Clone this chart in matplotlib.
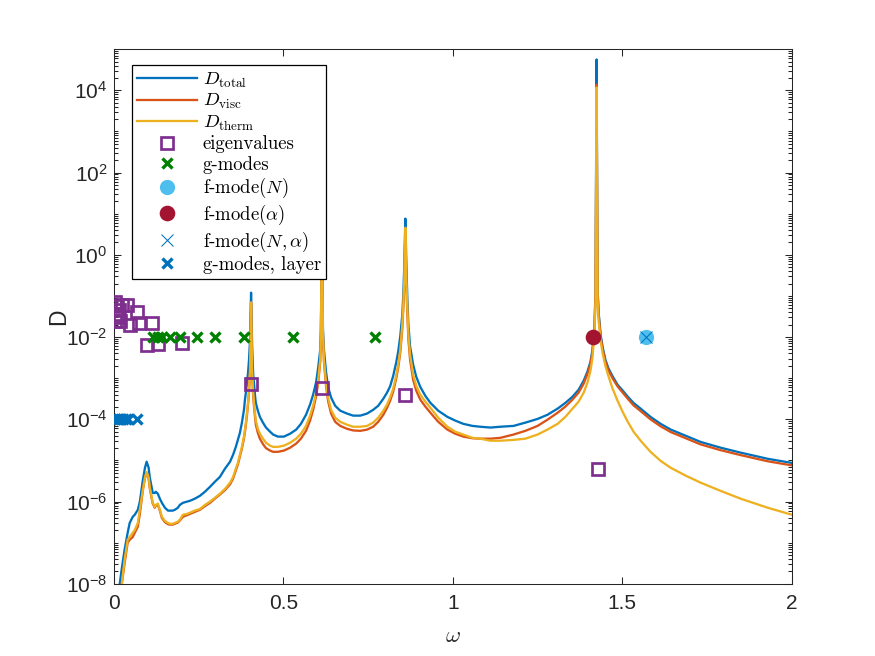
import numpy as np
import matplotlib
matplotlib.use('Agg')
import matplotlib.pyplot as plt
from matplotlib.ticker import FixedLocator, LogFormatterSciNotation, NullFormatter, FixedFormatter
from matplotlib.font_manager import FontProperties

# ---------------- data ----------------
# D_total  (omega, log10 D)
w_total = [0.012, 0.018, 0.024, 0.032, 0.041, 0.047, 0.056, 0.062, 0.071, 0.077, 0.086,
           0.092, 0.097, 0.103, 0.106, 0.112, 0.115, 0.121, 0.124, 0.130, 0.136,
           0.142, 0.151, 0.160, 0.165, 0.174, 0.180, 0.189, 0.195, 0.204, 0.216,
           0.225, 0.239, 0.254, 0.269, 0.284, 0.298, 0.313, 0.328, 0.343, 0.352,
           0.360, 0.366, 0.372, 0.378, 0.384, 0.387, 0.390, 0.393, 0.396, 0.399,
           0.402, 0.405, 0.408, 0.411, 0.414, 0.417, 0.419, 0.425, 0.431, 0.440,
           0.449, 0.461, 0.470, 0.484, 0.502, 0.520, 0.538, 0.552, 0.567, 0.579,
           0.588, 0.597, 0.603, 0.609, 0.611, 0.614, 0.617, 0.620, 0.626, 0.632,
           0.641, 0.653, 0.668, 0.688, 0.706, 0.727, 0.747, 0.765, 0.780, 0.795,
           0.806, 0.815, 0.824, 0.833, 0.839, 0.845, 0.851, 0.854, 0.857, 0.860,
           0.863, 0.866, 0.869, 0.874, 0.883, 0.892, 0.904, 0.919, 0.934, 0.957,
           0.984, 1.007, 1.031, 1.058, 1.081, 1.111, 1.140, 1.179, 1.214, 1.250,
           1.279, 1.309, 1.332, 1.353, 1.371, 1.386, 1.397, 1.406, 1.412, 1.418,
           1.421, 1.424, 1.427, 1.430, 1.436, 1.442, 1.450, 1.459, 1.471, 1.486,
           1.501, 1.516, 1.533, 1.554, 1.583, 1.613, 1.643, 1.687, 1.731, 1.790,
           1.849, 1.929, 2.000]
logD_total = [-8.27, -7.98, -7.61, -7.17, -6.76, -6.52, -6.37, -6.32, -6.20, -6.00, -5.47,
              -5.18, -5.03, -5.18, -5.40, -5.66, -5.79, -5.79, -5.76, -5.81, -5.93,
              -6.03, -6.15, -6.22, -6.22, -6.22, -6.20, -6.15, -6.08, -6.03, -6.00,
              -5.98, -5.93, -5.86, -5.76, -5.64, -5.52, -5.40, -5.20, -5.03, -4.86,
              -4.67, -4.50, -4.33, -4.08, -3.77, -3.52, -3.33, -3.11, -2.87, -2.55,
              -2.06, -0.92, -2.18, -2.87, -3.16, -3.45, -3.60, -3.79, -3.94, -4.08,
              -4.20, -4.30, -4.37, -4.42, -4.42, -4.35, -4.25, -4.11, -3.89, -3.64,
              -3.40, -3.09, -2.74, -2.31, -1.82, 1.00, -1.82, -2.31, -2.84, -3.21,
              -3.47, -3.67, -3.79, -3.86, -3.91, -3.91, -3.86, -3.77, -3.67, -3.50,
              -3.35, -3.20, -2.95, -2.62, -2.35, -1.98, -1.46, -0.97, -0.24, 0.88,
              -0.24, -1.09, -1.70, -2.23, -2.67, -2.96, -3.21, -3.43, -3.60, -3.79,
              -3.94, -4.03, -4.11, -4.16, -4.18, -4.20, -4.18, -4.16, -4.08, -3.99,
              -3.89, -3.74, -3.60, -3.45, -3.28, -3.06, -2.84, -2.60, -2.31, -1.70,
              -0.85, 4.75, -0.85, -1.40, -1.95, -2.25, -2.55, -2.76, -2.95, -3.16,
              -3.30, -3.45, -3.60, -3.74, -3.94, -4.11, -4.25, -4.40, -4.55, -4.69,
              -4.81, -4.96, -5.06]

# omega grid shared by D_visc and D_therm
w_vt = [0.021, 0.024, 0.032, 0.041, 0.047, 0.056, 0.062, 0.071, 0.077, 0.086,
        0.092, 0.097, 0.103, 0.106, 0.112, 0.115, 0.121, 0.124, 0.130, 0.136,
        0.142, 0.151, 0.160, 0.165, 0.174, 0.180, 0.189, 0.195, 0.204, 0.216,
        0.225, 0.239, 0.254, 0.269, 0.284, 0.298, 0.313, 0.328, 0.343, 0.352,
        0.360, 0.366, 0.372, 0.378, 0.384, 0.387, 0.390, 0.393, 0.396, 0.399,
        0.402, 0.405, 0.408, 0.411, 0.414, 0.417, 0.419, 0.425, 0.431, 0.440,
        0.449, 0.461, 0.470, 0.484, 0.502, 0.520, 0.538, 0.552, 0.567, 0.579,
        0.588, 0.597, 0.603, 0.609, 0.611, 0.614, 0.617, 0.620, 0.626, 0.632,
        0.641, 0.653, 0.668, 0.688, 0.706, 0.727, 0.747, 0.765, 0.780, 0.795,
        0.806, 0.815, 0.824, 0.833, 0.839, 0.845, 0.851, 0.854, 0.857, 0.860,
        0.863, 0.866, 0.869, 0.874, 0.883, 0.892, 0.904, 0.919, 0.934, 0.957,
        0.984, 1.007, 1.031, 1.058, 1.081, 1.111, 1.140, 1.179, 1.214, 1.250,
        1.279, 1.309, 1.332, 1.353, 1.371, 1.386, 1.397, 1.406, 1.412, 1.418,
        1.421, 1.424, 1.427, 1.430, 1.436, 1.442, 1.450, 1.459, 1.471, 1.486,
        1.501, 1.516, 1.533, 1.554, 1.583, 1.613, 1.643, 1.687, 1.731, 1.790,
        1.849, 1.929, 2.000]

logD_visc = [-8.27, -7.98, -7.50, -7.00, -6.93, -6.86, -6.76, -6.61, -6.30, -5.71,
             -5.42, -5.30, -5.45, -5.66, -5.93, -6.05, -6.15, -6.10, -6.08, -6.22,
             -6.40, -6.50, -6.55, -6.56, -6.56, -6.54, -6.51, -6.46, -6.37, -6.33,
             -6.30, -6.25, -6.20, -6.11, -6.03, -5.93, -5.83, -5.72, -5.58, -5.44,
             -5.25, -5.10, -4.90, -4.71, -4.46, -4.30, -4.11, -3.89, -3.64, -3.33,
             -2.84, -1.16, -2.84, -3.40, -3.72, -3.98, -4.13, -4.33, -4.47, -4.60,
             -4.70, -4.76, -4.79, -4.79, -4.76, -4.69, -4.59, -4.47, -4.28, -4.03,
             -3.77, -3.43, -3.11, -2.60, -1.97, 0.80, -1.97, -2.60, -3.18, -3.55,
             -3.86, -4.06, -4.16, -4.23, -4.27, -4.28, -4.25, -4.18, -4.06, -3.89,
             -3.72, -3.55, -3.33, -3.01, -2.74, -2.38, -1.80, -1.30, -0.72, 0.61,
             -0.72, -1.45, -2.06, -2.55, -3.04, -3.30, -3.52, -3.69, -3.84, -4.06,
             -4.25, -4.35, -4.42, -4.46, -4.47, -4.47, -4.45, -4.37, -4.28, -4.16,
             -4.01, -3.84, -3.69, -3.52, -3.35, -3.13, -2.90, -2.65, -2.36, -1.76,
             -0.90, 4.14, -0.90, -1.45, -2.00, -2.30, -2.60, -2.81, -3.00, -3.20,
             -3.35, -3.50, -3.66, -3.80, -4.00, -4.17, -4.31, -4.46, -4.61, -4.75,
             -4.87, -5.02, -5.12]

logD_therm = [-8.27, -7.98, -7.42, -6.93, -6.86, -6.76, -6.69, -6.52, -6.20, -5.71,
              -5.42, -5.28, -5.42, -5.64, -5.91, -6.03, -6.13, -6.08, -6.05, -6.20,
              -6.37, -6.47, -6.52, -6.54, -6.54, -6.52, -6.49, -6.44, -6.32, -6.30,
              -6.27, -6.22, -6.18, -6.08, -6.00, -5.91, -5.81, -5.69, -5.54, -5.40,
              -5.20, -5.06, -4.86, -4.67, -4.42, -4.25, -4.06, -3.84, -3.60, -3.28,
              -2.79, -1.16, -2.79, -3.33, -3.64, -3.89, -4.03, -4.23, -4.35, -4.47,
              -4.57, -4.64, -4.67, -4.67, -4.64, -4.57, -4.47, -4.35, -4.16, -3.91,
              -3.67, -3.35, -3.04, -2.55, -1.94, 0.80, -1.94, -2.55, -3.11, -3.47,
              -3.77, -3.96, -4.06, -4.13, -4.18, -4.18, -4.16, -4.08, -3.96, -3.79,
              -3.64, -3.47, -3.26, -2.94, -2.67, -2.31, -1.70, -1.21, -0.60, 0.66,
              -0.60, -1.33, -1.94, -2.43, -2.91, -3.18, -3.40, -3.57, -3.72, -3.96,
              -4.18, -4.30, -4.37, -4.45, -4.47, -4.52, -4.52, -4.50, -4.47, -4.37,
              -4.25, -4.11, -3.94, -3.74, -3.57, -3.35, -3.11, -2.82, -2.50, -1.82,
              -1.09, 4.07, -1.09, -1.60, -2.10, -2.40, -2.70, -2.95, -3.25, -3.55,
              -3.82, -4.06, -4.30, -4.52, -4.79, -5.01, -5.18, -5.37, -5.54, -5.74,
              -5.93, -6.15, -6.32]

# eigenvalues (open squares)
eig_w = [0.003, 0.009, 0.015, 0.006, 0.012, 0.018, 0.003, 0.024, 0.038, 0.012, 0.068, 0.047,
         0.074, 0.112, 0.097, 0.130, 0.200, 0.405, 0.615, 0.860, 1.427]
eig_D = [7.3e-2, 5.8e-2, 4.6e-2, 3.7e-2, 3.0e-2, 2.4e-2, 2.4e-2, 6.1e-2, 6.1e-2, 3.2e-2, 4.1e-2,
         2.0e-2, 2.2e-2, 2.2e-2, 6.5e-3, 6.9e-3, 7.3e-3, 7.3e-4, 5.9e-4, 4.0e-4, 6.3e-6]

# g-modes (green crosses)
g_w = [0.115, 0.130, 0.142, 0.165, 0.195, 0.245, 0.298, 0.384, 0.529, 0.771]
g_D = [1e-2] * len(g_w)

# f-modes
fN_w, fN_D = [1.5708], [1e-2]
fa_w, fa_D = [1.4142], [1e-2]
fNa_w, fNa_D = [1.5708], [1e-2]

# g-modes, layer (blue crosses)
gl_w = [0.003, 0.009, 0.015, 0.021, 0.027, 0.035, 0.041, 0.068]
gl_D = [1e-4] * len(gl_w)

x_ticks = [0, 0.5, 1, 1.5, 2]
x_ticklabels = ['0', '0.5', '1', '1.5', '2']
y_major = [1e-8, 1e-6, 1e-4, 1e-2, 1e0, 1e2, 1e4]

# ---------------- style ----------------
plt.rcParams['font.family'] = ['Liberation Sans', 'DejaVu Sans']
C_BLUE, C_ORANGE, C_YELLOW = '#0072BD', '#D95319', '#EDB120'
C_PURPLE, C_GREEN, C_LBLUE, C_RED = '#7E2F8E', '#008000', '#4DBEEE', '#A2142F'
AXC = '#262626'

fig = plt.figure(figsize=(875 / 150, 656 / 150), dpi=150)
ax = fig.add_axes([0.13, 0.11, 0.775, 0.815])

lw = 1.1
ax.plot(w_total, 10 ** np.array(logD_total), color=C_BLUE, lw=lw, label=r'$D_{\mathrm{total}}$', zorder=2)
ax.plot(w_vt, 10 ** np.array(logD_visc), color=C_ORANGE, lw=lw, label=r'$D_{\mathrm{visc}}$', zorder=2.1)
ax.plot(w_vt, 10 ** np.array(logD_therm), color=C_YELLOW, lw=lw, label=r'$D_{\mathrm{therm}}$', zorder=2.2)

ax.plot(eig_w, eig_D, ls='none', marker='s', ms=5.8, mfc='none', mec=C_PURPLE, mew=1.3,
        label='eigenvalues', zorder=3)
ax.plot(g_w, g_D, ls='none', marker='x', ms=4.5, mec=C_GREEN, mew=1.6, label='g-modes', zorder=3)
ax.plot(fN_w, fN_D, ls='none', marker='o', ms=6.3, mfc=C_LBLUE, mec=C_LBLUE, label=r'f-mode$(N)$', zorder=3)
ax.plot(fa_w, fa_D, ls='none', marker='o', ms=6.5, mfc=C_RED, mec=C_RED, label=r'f-mode$(\alpha)$', zorder=3)
ax.plot(fNa_w, fNa_D, ls='none', marker='x', ms=6, mec=C_BLUE, mew=0.5, label=r'f-mode$(N,\alpha)$', zorder=3.1)
ax.plot(gl_w, gl_D, ls='none', marker='x', ms=4.5, mec=C_BLUE, mew=1.6, label='g-modes, layer', zorder=3)

ax.set_yscale('log')
ax.set_xlim(0, 2)
ax.set_ylim(1e-8, 1e5)

ax.xaxis.set_major_locator(FixedLocator(x_ticks))
ax.xaxis.set_major_formatter(FixedFormatter(x_ticklabels))
ax.yaxis.set_major_locator(FixedLocator(y_major))
ax.yaxis.set_major_formatter(LogFormatterSciNotation())
minors = []
for e in range(-8, 5):
    for k in range(1, 10):
        if not (k == 1 and e % 2 == 0):
            minors.append(k * 10.0 ** e)
ax.yaxis.set_minor_locator(FixedLocator(minors))
ax.yaxis.set_minor_formatter(NullFormatter())
ax.xaxis.set_minor_locator(FixedLocator([]))

for s in ax.spines.values():
    s.set_color(AXC)
    s.set_linewidth(0.5)
ax.tick_params(which='both', direction='in', top=True, right=True, color=AXC, width=0.5,
               labelcolor=AXC, labelsize=10)
ax.tick_params(which='major', length=3.3)
ax.tick_params(which='minor', length=2.0)
ax.tick_params(axis='x', pad=5)
ax.tick_params(axis='y', pad=3)

ax.set_xlabel(r'$\omega$', color=AXC, labelpad=5,
              fontproperties=FontProperties(size=11, math_fontfamily='cm'))
ax.set_ylabel('D', fontsize=11, color=AXC)
ax.yaxis.set_label_coords(-0.064, 0.5)

leg = ax.legend(loc='upper left', bbox_to_anchor=(0.0266, 0.970), borderaxespad=0,
                prop=FontProperties(family='cmr10', size=9, math_fontfamily='cm'),
                fancybox=False, framealpha=1, edgecolor='black', handlelength=3.2,
                handletextpad=0.3, labelspacing=0.13, borderpad=0.28)
leg.get_frame().set_linewidth(0.6)
leg.set_zorder(10)

fig.savefig('out.png', dpi=150)
